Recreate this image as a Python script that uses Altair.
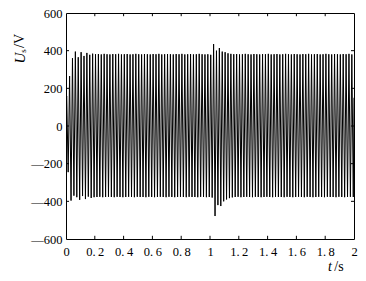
import altair as alt
import pandas as pd

# ---- data (50 Hz waveform, one peak and one trough per cycle) ----
f_cycles = 50  # cycles per second
start_value = 140
end_value = 150
peaks = [
    158, 265, 360, 395, 365, 392, 372, 388, 378, 384,
    381, 382, 380, 383, 381, 380, 382, 381, 383, 380,
    381, 382, 380, 381, 383, 381, 380, 382, 381, 380,
    382, 381, 383, 380, 381, 382, 381, 380, 382, 381,
    383, 380, 381, 382, 380, 381, 383, 381, 380, 381,
    378, 435, 400, 414, 395, 392, 386, 383, 381, 382,
    380, 381, 383, 381, 380, 382, 381, 380, 382, 381,
    383, 380, 381, 382, 380, 381, 383, 381, 380, 382,
    381, 380, 382, 381, 383, 380, 381, 382, 380, 381,
    383, 381, 380, 382, 381, 380, 382, 381, 383, 380,
]
troughs = [
    -245, -396, -370, -378, -392, -372, -388, -375, -382, -378,
    -377, -376, -378, -377, -376, -377, -378, -376, -377, -378,
    -377, -376, -377, -378, -376, -377, -377, -378, -376, -377,
    -378, -377, -376, -377, -378, -376, -377, -378, -377, -376,
    -377, -378, -376, -377, -377, -378, -376, -377, -378, -377,
    -380, -478, -420, -425, -400, -390, -383, -379, -377, -376,
    -378, -377, -376, -377, -378, -376, -377, -378, -377, -376,
    -377, -378, -376, -377, -377, -378, -376, -377, -378, -377,
    -376, -377, -378, -376, -377, -378, -377, -376, -377, -378,
    -376, -377, -377, -378, -376, -377, -378, -377, -376, -377,
]

x_ticks = [0.2, 0.4, 0.6, 0.8, 1.0, 1.2, 1.4, 1.6, 1.8]
y_ticks = [-400, -200, 0, 200, 400]
x_label_values = [0, 0.2, 0.4, 0.6, 0.8, 1.0, 1.2, 1.4, 1.6, 1.8, 2.0]
y_label_values = [-600, -400, -200, 0, 200, 400, 600]

# ---- build the line table (time axis from the cycle index) ----
rows = [{"t": 0.0, "u": start_value}]
for k, (p, q) in enumerate(zip(peaks, troughs)):
    rows.append({"t": (k + 0.25) / f_cycles, "u": p})
    rows.append({"t": (k + 0.75) / f_cycles, "u": q})
rows.append({"t": 2.0, "u": end_value})
wave = pd.DataFrame(rows)

# inward tick marks on all four sides
tick_rows = []
tx = 0.021
ty = 17
for v in x_ticks:
    tick_rows.append({"x": v, "x2": v, "y": -600, "y2": -600 + ty})
    tick_rows.append({"x": v, "x2": v, "y": 600, "y2": 600 - ty})
for v in y_ticks:
    tick_rows.append({"x": 0, "x2": tx, "y": v, "y2": v})
    tick_rows.append({"x": 2, "x2": 2 - tx, "y": v, "y2": v})
ticks = pd.DataFrame(tick_rows)

FONT = "Liberation Serif"

xs = alt.Scale(domain=[0, 2], nice=False, zero=False)
ys = alt.Scale(domain=[-600, 600], nice=False)

x_axis = alt.Axis(
    values=x_label_values, title=None, ticks=False, domain=False, grid=False,
    labelFont=FONT, labelFontSize=12.5, labelColor="black", labelPadding=6,
    labelExpr="replace(format(datum.value, ''), '.', '.\u2009')",
    labelFlush=False, labelOverlap=False)
y_axis = alt.Axis(
    values=y_label_values, title=None, ticks=False, domain=False, grid=False,
    labelFont=FONT, labelFontSize=12.5, labelColor="black", labelPadding=4,
    labelExpr="datum.value < 0 ? '\u2014' + format(-datum.value, 'd') : format(datum.value, 'd')",
    labelFlush=False, labelOverlap=False)

line = alt.Chart(wave).mark_line(color="black", strokeWidth=1.0, clip=True).encode(
    x=alt.X("t:Q", scale=xs, axis=x_axis),
    y=alt.Y("u:Q", scale=ys, axis=y_axis),
)

tick_layer = alt.Chart(ticks).mark_rule(color="black", strokeWidth=1).encode(
    x=alt.X("x:Q", scale=xs, axis=x_axis), x2="x2:Q",
    y=alt.Y("y:Q", scale=ys, axis=y_axis), y2="y2:Q",
)

def label(txt, x, y, size=14, italic=False, angle=0):
    return alt.Chart(pd.DataFrame({"a": [0]})).mark_text(
        text=txt, font=FONT, fontSize=size, fontStyle="italic" if italic else "normal",
        color="black", align="center", baseline="middle", angle=angle,
    ).encode(x=alt.value(x), y=alt.value(y))

titles = [
    label("U", -46, 45, 15, True, 270),
    label("s", -43, 38, 9, False, 270),
    label("/V", -46, 28, 14, False, 270),
    label("t", 264, 254, 14, True),
    label("/s", 273, 254, 14, False),
]

chart = alt.layer(line, tick_layer, *titles).properties(
    width=288, height=226,
    autosize=alt.AutoSizeParams(type="none"),
    padding={"left": 66, "top": 13, "right": 12, "bottom": 42},
    background="white",
).configure_view(stroke="black", strokeWidth=1)

chart.save("out.html", embed_options={"renderer": "svg", "actions": False})
